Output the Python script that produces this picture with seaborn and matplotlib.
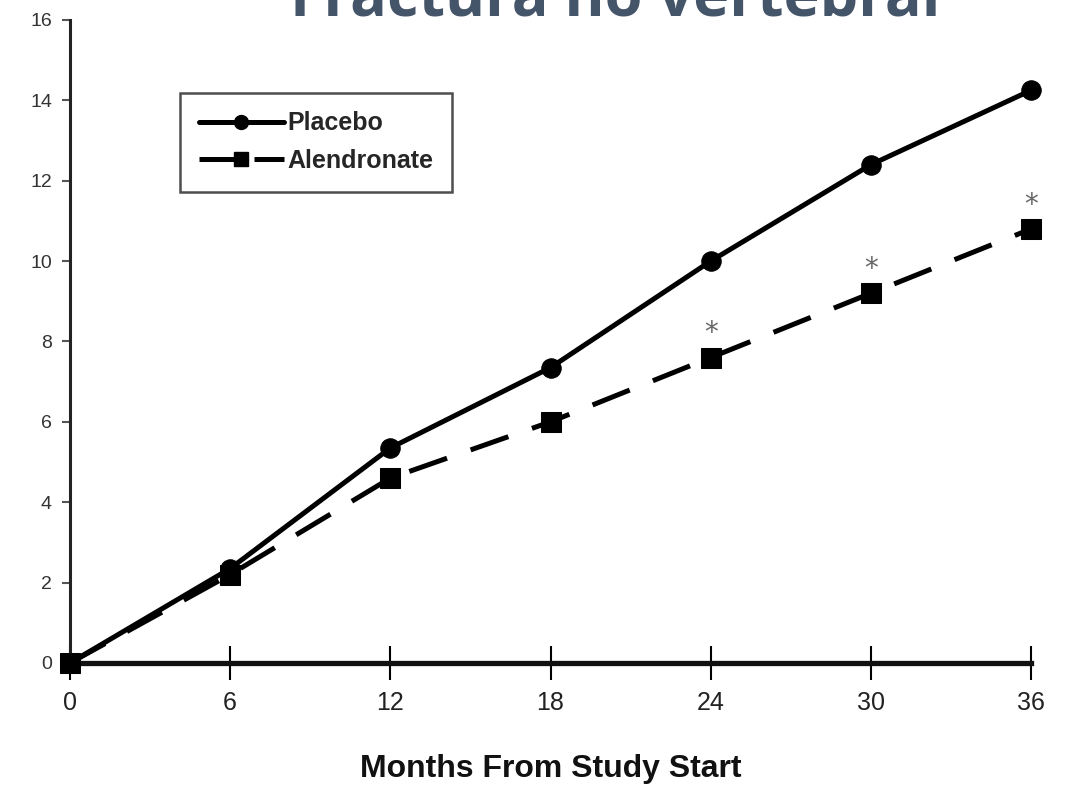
import matplotlib
matplotlib.use("Agg")
import matplotlib.pyplot as plt
import seaborn as sns
import pandas as pd
from matplotlib.lines import Line2D

# Cumulative incidence of non-vertebral fractures (%)
months = [0, 6, 12, 18, 24, 30, 36]
placebo = [0.0, 2.35, 5.35, 7.35, 10.0, 12.4, 14.25]
alendronate = [0.0, 2.2, 4.6, 6.0, 7.6, 9.2, 10.8]
significant = [24, 30, 36]
y_ticks = [0, 2, 4, 6, 8, 10, 12, 14, 16]

df = pd.DataFrame({
    "month": months * 2,
    "pct": placebo + alendronate,
    "group": ["Placebo"] * len(months) + ["Alendronate"] * len(months),
})

sns.set_theme(style="white")
plt.rcParams["font.family"] = ["Liberation Sans", "DejaVu Sans"]

fig = plt.figure(figsize=(10.72, 7.9), dpi=100)
ax = fig.add_axes([0.0653, 0.1608, 0.8965, 0.8139])

sns.lineplot(
    data=df, x="month", y="pct", style="group", ax=ax,
    markers={"Placebo": "o", "Alendronate": "s"},
    dashes={"Placebo": "", "Alendronate": (8, 5)},
    color="black", linewidth=3.6, markersize=14,
    markeredgecolor="black", legend=False, clip_on=False, zorder=3,
)

ax.set_xlim(0, 36)
ax.set_ylim(0, 16)
ax.set_xticks(months)
ax.set_yticks(y_ticks)
ax.tick_params(axis="x", direction="inout", length=24, width=1.5, color="black",
               labelsize=18, pad=8, bottom=True)
ax.tick_params(axis="y", direction="out", length=6, width=1.5, color="#555555",
               labelsize=14, pad=7, left=True)
for lab in ax.get_xticklabels():
    lab.set_color("#222222")
for lab in ax.get_yticklabels():
    lab.set_color("#333333")

sns.despine(ax=ax)
ax.spines["left"].set_linewidth(2.2)
ax.spines["left"].set_color("#222222")
ax.spines["bottom"].set_linewidth(3.8)
ax.spines["bottom"].set_color("#111111")

ax.set_xlabel("Months From Study Start", fontsize=23, fontweight="bold",
              labelpad=28, color="#111111")
ax.set_ylabel("")

# Significance markers above the alendronate curve
for m in significant:
    v = alendronate[months.index(m)]
    ax.text(m, v + 0.6, "*", ha="center", va="center", fontsize=20,
            color="#666666", family=["DejaVu Sans"])

handles = [
    Line2D([], [], color="black", lw=3.6, marker="o", markersize=10),
    Line2D([], [], color="black", lw=3.6, marker="s", markersize=10,
           dashes=(8, 3)),
]
leg = ax.legend(handles, ["Placebo", "Alendronate"], loc="upper left",
                bbox_to_anchor=(0.1145, 0.887), borderaxespad=0,
                frameon=True, fancybox=False,
                edgecolor="#222222", fontsize=18, handlelength=3.4,
                handletextpad=0.15, borderpad=0.75, labelspacing=0.55)
leg.get_frame().set_linewidth(1.8)
for t in leg.get_texts():
    t.set_fontweight("bold")

fig.text(0.574, 1 - 16 / 790, "Fractura no vertebral", ha="center",
         va="baseline", fontsize=44, fontweight="bold", color="#445469",
         family=["Open Sans", "DejaVu Sans"])

fig.savefig("out.png", dpi=100, facecolor="white")
